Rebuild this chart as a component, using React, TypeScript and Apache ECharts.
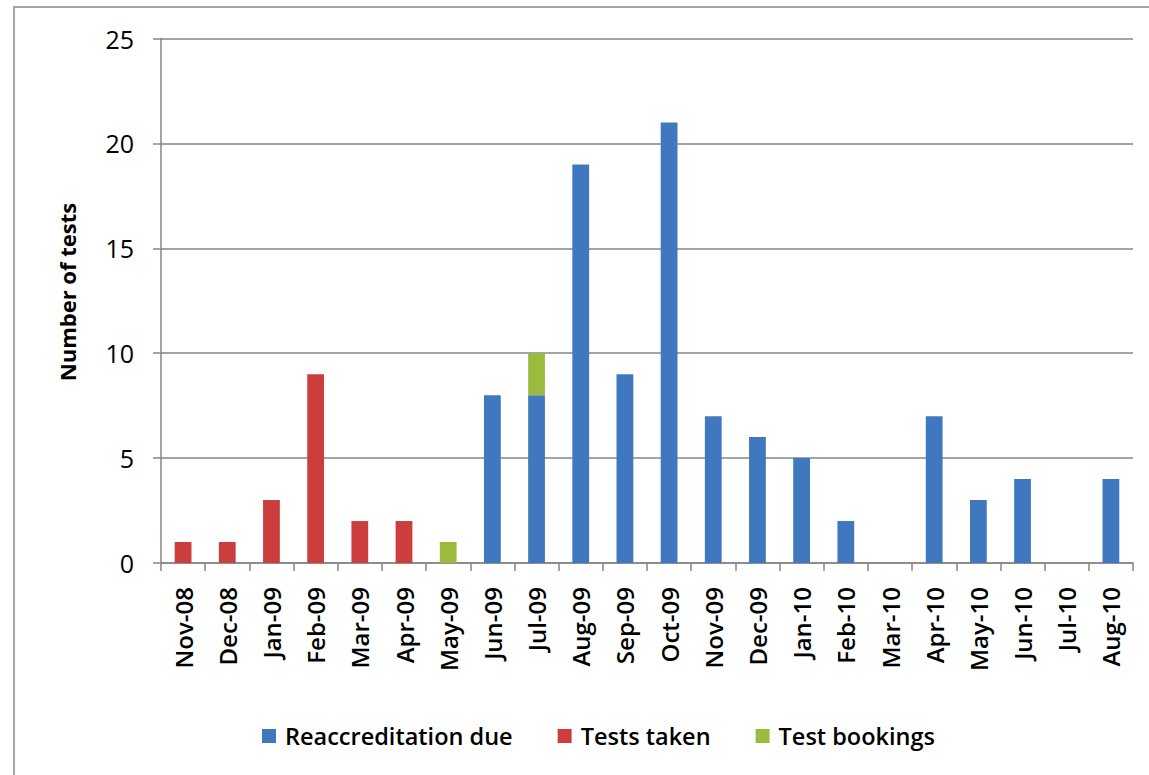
import React, { useEffect, useRef } from "react";
import * as echarts from "echarts";

const categories = ["Nov-08","Dec-08","Jan-09","Feb-09","Mar-09","Apr-09","May-09","Jun-09","Jul-09","Aug-09","Sep-09","Oct-09","Nov-09","Dec-09","Jan-10","Feb-10","Mar-10","Apr-10","May-10","Jun-10","Jul-10","Aug-10"];
const reaccreditationDue = [null,null,null,null,null,null,null,8,8,19,9,21,7,6,5,2,0,7,3,4,0,4];
const testsTaken = [1,1,3,9,2,2,null,null,null,null,null,null,null,null,null,null,null,null,null,null,null,null];
const testBookings = [null,null,null,null,null,null,1,null,2,null,null,null,null,null,null,null,null,null,null,null,null,null];
const yTicks = [0, 5, 10, 15, 20, 25];
const yTitle = "Number of tests";

const FONT = "'Open Sans', Lato, sans-serif";

export default function App() {
  const ref = useRef<HTMLDivElement>(null);
  useEffect(() => {
    document.body.style.margin = "0";
    const chart = echarts.init(ref.current!, null, { renderer: "svg" });
    chart.setOption({
      animation: false,
      backgroundColor: "#fff",
      textStyle: { fontFamily: FONT },
      graphic: [
        {
          type: "rect",
          shape: { x: 14, y: 7, width: 1200, height: 820 },
          style: { fill: "none", stroke: "#8a8a8a", lineWidth: 1.5 },
          silent: true,
        },
        {
          type: "text",
          x: 67,
          y: 292,
          rotation: Math.PI / 2,
          style: {
            text: yTitle,
            fontSize: 22,
            fontWeight: "bold",
            fontFamily: FONT,
            fill: "#000",
            align: "center",
            verticalAlign: "middle",
          },
          silent: true,
        },
      ],
      legend: {
        top: 719,
        left: 257,
        itemWidth: 14,
        itemHeight: 14,
        itemGap: 45,
        icon: "rect",
        textStyle: { fontSize: 23.5, fontWeight: 600, color: "#000", fontFamily: FONT, padding: [0, 0, 0, 4] },
        data: ["Reaccreditation due", "Tests taken", "Test bookings"],
      },
      grid: { left: 161, right: 16, top: 38.5, bottom: 212, containLabel: false },
      xAxis: {
        type: "category",
        data: categories,
        boundaryGap: true,
        axisLine: { lineStyle: { color: "#868686", width: 1.5 } },
        axisTick: { show: true, length: 8, alignWithLabel: false, lineStyle: { color: "#868686", width: 1.5 } },
        axisLabel: { rotate: 90, fontSize: 24, fontWeight: 600, color: "#000", margin: 24, fontFamily: FONT },
      },
      yAxis: {
        type: "value",
        min: yTicks[0],
        max: yTicks[yTicks.length - 1],
        interval: 5,
        axisLine: { show: true, lineStyle: { color: "#868686", width: 1.5 } },
        axisTick: { show: true, length: 8, lineStyle: { color: "#868686", width: 1.5 } },
        axisLabel: { fontSize: 25, color: "#000", margin: 27, fontFamily: FONT },
        splitLine: { lineStyle: { color: "#868686", width: 1.5 } },
      },
      series: [
        { name: "Reaccreditation due", type: "bar", stack: "s", data: reaccreditationDue, barWidth: "38%", itemStyle: { color: "#4078C0" } },
        { name: "Tests taken", type: "bar", stack: "s", data: testsTaken, barWidth: "38%", itemStyle: { color: "#CC3E3E" } },
        { name: "Test bookings", type: "bar", stack: "s", data: testBookings, barWidth: "38%", itemStyle: { color: "#9BBB3C" } },
      ],
    });
    return () => chart.dispose();
  }, []);
  return <div ref={ref} style={{ width: 1149, height: 775 }} />;
}
